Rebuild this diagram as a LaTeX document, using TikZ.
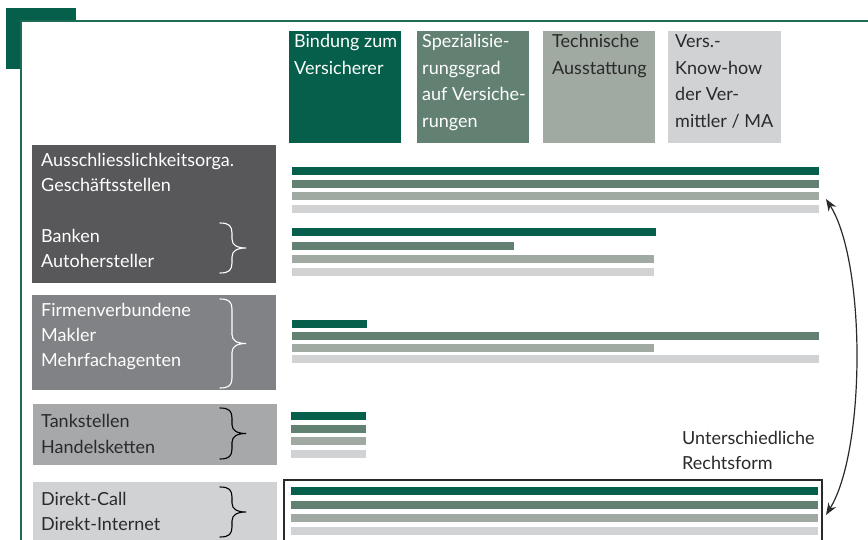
\documentclass[tikz,border=0pt]{standalone}
\usepackage{fontspec}
\setmainfont{Lato}
\usetikzlibrary{arrows.meta}
\definecolor{grA}{HTML}{055F4B}
\definecolor{grB}{HTML}{628172}
\definecolor{grC}{HTML}{A0AAA2}
\definecolor{grD}{HTML}{D1D2D4}
\definecolor{boxA}{HTML}{58585A}
\definecolor{boxB}{HTML}{818285}
\definecolor{boxC}{HTML}{A7A8AA}
\definecolor{boxD}{HTML}{D1D2D4}
\definecolor{frameline}{HTML}{1E6B56}
\definecolor{inkdark}{HTML}{2A2A2A}
% right-pointing curly brace: #1 top, #2 bottom, #3 colour
\newcommand{\sidebrace}[3]{%
  \draw[#3, line width=1.1pt, line cap=round]
    (220,#1) .. controls (229,#1) and (232,#1+3) .. (232,#1+10)
    -- (232,{(#1+#2)/2-9})
    .. controls (232,{(#1+#2)/2-3}) and (237,{(#1+#2)/2}) .. (246,{(#1+#2)/2})
    .. controls (237,{(#1+#2)/2}) and (232,{(#1+#2)/2+3}) .. (232,{(#1+#2)/2+9})
    -- (232,#2-10)
    .. controls (232,#2-3) and (229,#2) .. (220,#2);}
\begin{document}
\begin{tikzpicture}[x=1pt,y=-1pt,
  txt/.style={anchor=base west, inner sep=0pt, font=\fontsize{18}{22}\selectfont},
  light/.style={txt, text=white},
  dark/.style={txt, text=inkdark},
  outline/.style={draw=inkdark, line width=1.2pt}]
\useasboundingbox (0,0) rectangle (868,540);
\clip (0,0) rectangle (868,540);

% page frame with corner tab
\fill[grA] (6,8) rectangle (76,69);
\filldraw[fill=white, draw=frameline, line width=1.5pt] (21,21) rectangle (900,600);

% column headers
\fill[grA] (289,31) rectangle (401,143);
\fill[grB] (417,31) rectangle (529,143);
\fill[grC] (543,31) rectangle (655,143);
\fill[grD] (668,31) rectangle (781,143);
\node[light] (h1a) at (294,48) {Bindung zum};
\node[light] (h1b) at (294,74.5) {Versicherer};
\node[light] (h2a) at (422,48) {Spezialisie-};
\node[light] (h2b) at (422,74.5) {rungsgrad};
\node[light] (h2c) at (422,101) {auf Versiche-};
\node[light] (h2d) at (422,127.5) {rungen};
\node[dark] (h3a) at (552,48) {Technische};
\node[dark] (h3b) at (552,74.5) {Ausstattung};
\node[dark] (h4a) at (675,48) {Vers.-};
\node[dark] (h4b) at (675,74.5) {Know-how};
\node[dark] (h4c) at (675,101) {der Ver-};
\node[dark] (h4d) at (675,127.5) {mittler / MA};

% row labels
\fill[boxA] (32,145) rectangle (276,283);
\fill[boxB] (32,295) rectangle (276,390);
\fill[boxC] (33,404) rectangle (277,465);
\fill[boxD] (33,482) rectangle (277,560);
\node[light] (r1a) at (41,166.5) {Ausschliesslichkeitsorga.};
\node[light] (r1b) at (41,191.8) {Geschäftsstellen};
\node[light] (r1c) at (41,242.4) {Banken};
\node[light] (r1d) at (41,267.7) {Autohersteller};
\node[light] (r2a) at (41,316.7) {Firmenverbundene};
\node[light] (r2b) at (41,341.7) {Makler};
\node[light] (r2c) at (41,366.7) {Mehrfachagenten};
\node[dark] (r3a) at (41,427.3) {Tankstellen};
\node[dark] (r3b) at (41,453.3) {Handelsketten};
\node[dark] (r4a) at (41,505) {Direkt-Call};
\node[dark] (r4b) at (41,530) {Direkt-Internet};
\sidebrace{223}{273}{white}
\sidebrace{299}{388}{white}
\sidebrace{408}{459}{black}
\sidebrace{487}{537}{black}

% bars: group 1
\fill[grA] (292,167) rectangle (819,175);
\fill[grB] (292,180) rectangle (819,188);
\fill[grC] (292,192) rectangle (819,200);
\fill[grD] (292,205) rectangle (819,213);
% group 2
\fill[grA] (292,228) rectangle (656,236);
\fill[grB] (292,242) rectangle (514,250);
\fill[grC] (292,255) rectangle (654,263);
\fill[grD] (292,268) rectangle (654,276);
% group 3
\fill[grA] (292,320) rectangle (367,328);
\fill[grB] (292,332) rectangle (819,340);
\fill[grC] (292,344) rectangle (654,352);
\fill[grD] (292,355) rectangle (819,363);
% group 4
\fill[grA] (291,412) rectangle (366,420);
\fill[grB] (291,425) rectangle (366,433);
\fill[grC] (291,437) rectangle (366,445);
\fill[grD] (291,450) rectangle (366,458);
% group 5, framed
\draw[outline] (284,480) rectangle (822,600);
\fill[grA] (291,487) rectangle (818,495);
\fill[grB] (291,501) rectangle (818,509);
\fill[grC] (291,514) rectangle (818,522);
\fill[grD] (291,527) rectangle (818,535);

% note and double arrow
\node[dark] (n1) at (682,444) {Unterschiedliche};
\node[dark] (n2) at (682,469) {Rechtsform};
\coordinate (atop) at (826,199);
\coordinate (abot) at (826,515);
\draw[{Stealth[length=12pt,width=9pt]}-{Stealth[length=12pt,width=9pt]}, line width=1.2pt, inkdark]
  (atop) .. controls (866,262) and (866,450) .. (abot);
\end{tikzpicture}
\end{document}
